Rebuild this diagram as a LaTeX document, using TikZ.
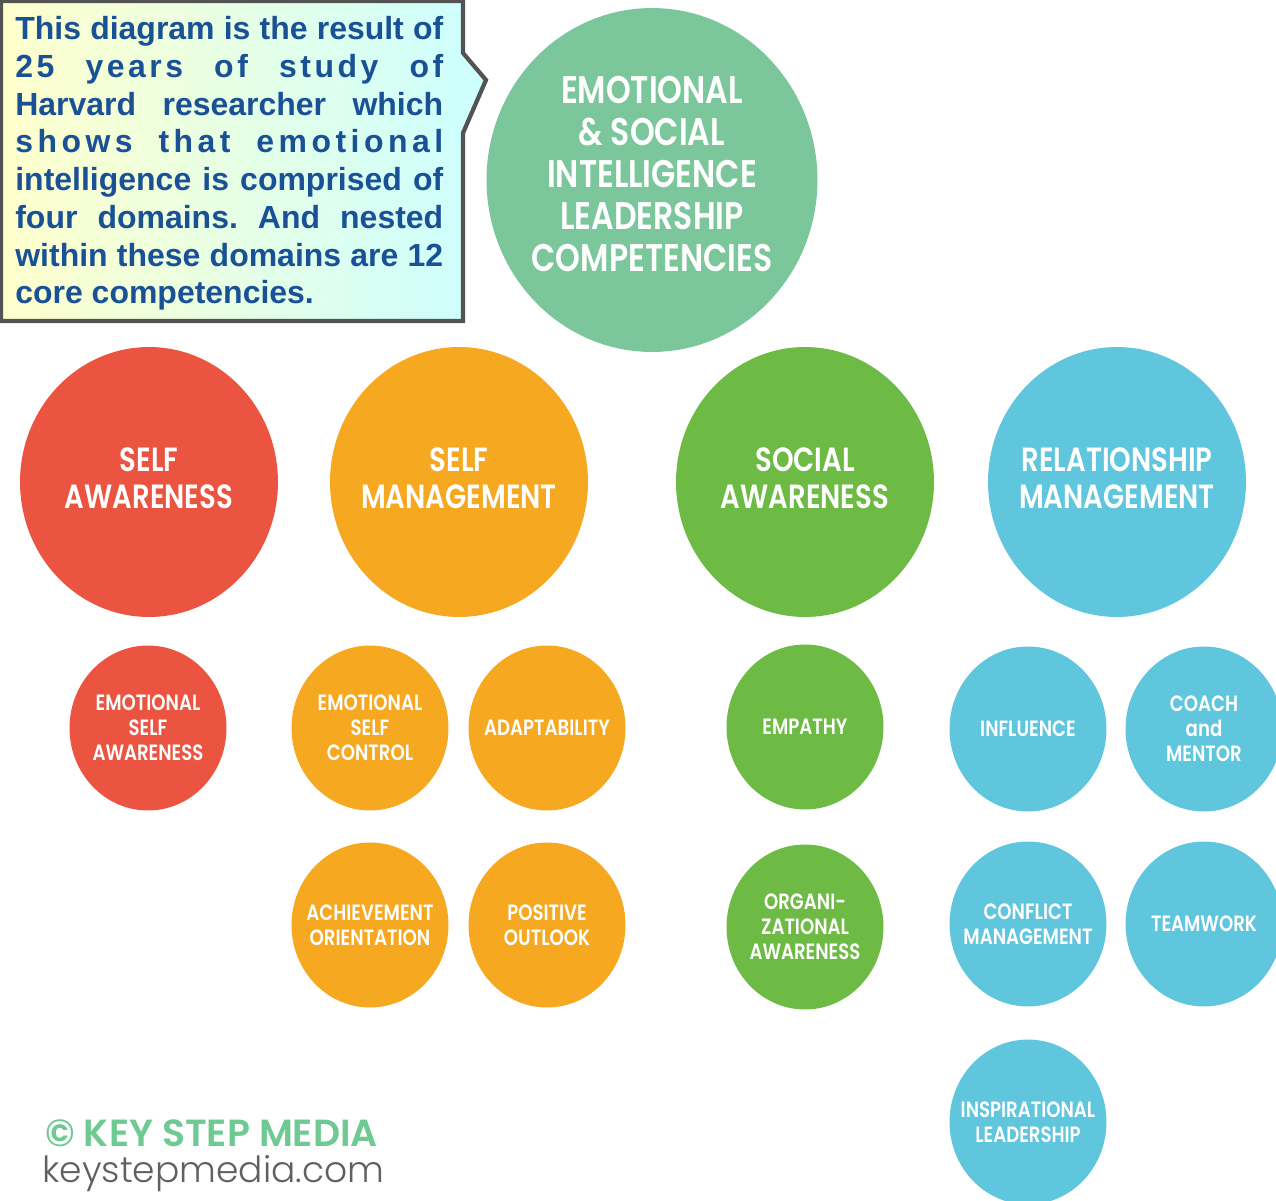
\documentclass[tikz,border=0pt]{standalone}
\usepackage{fontspec}
\setmainfont{Liberation Sans}
\newfontfamily\gothicfont[FakeStretch=0.82, BoldFont={Poppins SemiBold}]{Poppins}
\newfontfamily\logofont[BoldFont={Poppins SemiBold}]{Poppins}
\newfontfamily\urlfont{Poppins Light}
\usetikzlibrary{calc, shapes.geometric}

\definecolor{sa-red}{HTML}{EB5440}
\definecolor{sm-orange}{HTML}{F6A821}
\definecolor{soc-green}{HTML}{6DBB45}
\definecolor{rm-blue}{HTML}{5FC6DD}
\definecolor{top-green}{HTML}{7BC79B}
\definecolor{note-blue}{HTML}{1A5196}
\definecolor{note-yellow}{HTML}{FFFFCC}
\definecolor{note-cyan}{HTML}{CCFFFF}
\definecolor{logo-green}{HTML}{6FC993}
\definecolor{logo-gray}{HTML}{606060}

% one justified line of the note, words split by \hfill
\newlength{\notewidth}
\setlength{\notewidth}{8.56cm}
\newcommand{\noteline}[1]{\hbox to \notewidth{#1}}

\tikzset{
    my-bubble/.style={
        ellipse, fill=#1, inner sep=0pt
    },
    my-caption/.style={
        text=white, align=center, inner sep=0pt
    },
    my-main/.style={
        my-bubble=top-green, minimum width=6.62cm, minimum height=6.88cm
    },
    my-domain/.style={
        my-bubble=#1, minimum width=5.16cm, minimum height=5.4cm
    },
    my-competency/.style={
        my-bubble=#1, minimum width=3.14cm, minimum height=3.3cm
    },
    my-main-caption/.style={
        my-caption, yshift=0.12cm, font=\gothicfont\bfseries\fontsize{21.9}{23.8}\selectfont
    },
    my-domain-caption/.style={
        my-caption, yshift=0.08cm, font=\gothicfont\bfseries\fontsize{19.1}{21}\selectfont
    },
    my-competency-caption/.style={
        my-caption, font=\gothicfont\bfseries\fontsize{12.6}{14.2}\selectfont
    },
}

\begin{document}
\begin{tikzpicture}[x=0.02cm, y=-0.02cm]

        \useasboundingbox (0, 0) rectangle (1276, 1201);

        % NOTE BOX WITH POINTER -----------------------------------------------------------------------
        \draw[draw=gray!65!black, line width=2.4pt, left color=note-yellow, right color=note-cyan]
            (1, 1) -- (463, 1) -- (463, 53) -- (486, 80) -- (463, 133) -- (463, 321) -- (1, 321) -- cycle;
        \node[anchor=north west, inner sep=0pt, align=left, text=note-blue,
              font=\bfseries\fontsize{18.2}{21.5}\selectfont] (NOTE) at (15, 16) {%
            \noteline{This\hfill diagram\hfill is\hfill the\hfill result\hfill of}\\
            \noteline{\addfontfeature{LetterSpace=11}25\hfill years\hfill of\hfill study\hfill of}\\
            \noteline{Harvard\hfill researcher\hfill which}\\
            \noteline{\addfontfeature{LetterSpace=14}shows\hfill that\hfill emotional}\\
            \noteline{intelligence\hfill is\hfill comprised\hfill of}\\
            \noteline{four\hfill domains.\hfill And\hfill nested}\\
            \noteline{within\hfill these\hfill domains\hfill are\hfill 12}\\
            core competencies.};

        % MAIN BUBBLE
        \node[my-main, label={[my-main-caption]center:EMOTIONAL\\\& SOCIAL\\INTELLIGENCE\\LEADERSHIP\\COMPETENCIES}]
            (EI) at (652, 180) {};

        % DOMAINS -------------------------------------------------------------------------------------
        \node[my-domain=sa-red,    label={[my-domain-caption]center:SELF\\AWARENESS}]          (SA)  at (149, 482)  {};
        \node[my-domain=sm-orange, label={[my-domain-caption]center:SELF\\MANAGEMENT}]         (SM)  at (459, 482)  {};
        \node[my-domain=soc-green, label={[my-domain-caption]center:SOCIAL\\AWARENESS}]        (SOA) at (805, 482)  {};
        \node[my-domain=rm-blue,   label={[my-domain-caption]center:RELATIONSHIP\\MANAGEMENT}] (RM)  at (1117, 482) {};

        % SELF AWARENESS COMPETENCIES
        \node[my-competency=sa-red, label={[my-competency-caption]center:EMOTIONAL\\SELF\\AWARENESS}]
            (ESA) at ($(SA) + (-1, 246)$) {};

        % SELF MANAGEMENT COMPETENCIES
        \node[my-competency=sm-orange, label={[my-competency-caption]center:EMOTIONAL\\SELF\\CONTROL}]
            (ESC) at ($(SM) + (-89, 246)$) {};
        \node[my-competency=sm-orange, label={[my-competency-caption]center:ADAPTABILITY}]
            (ADAPT) at ($(SM) + (88, 246)$) {};
        \node[my-competency=sm-orange, label={[my-competency-caption]center:ACHIEVEMENT\\ORIENTATION}]
            (ACH) at ($(SM) + (-89, 443)$) {};
        \node[my-competency=sm-orange, label={[my-competency-caption]center:POSITIVE\\OUTLOOK}]
            (POS) at ($(SM) + (88, 443)$) {};

        % SOCIAL AWARENESS COMPETENCIES
        \node[my-competency=soc-green, label={[my-competency-caption]center:EMPATHY}]
            (EMP) at ($(SOA) + (0, 245)$) {};
        \node[my-competency=soc-green, label={[my-competency-caption]center:ORGANI-\\ZATIONAL\\AWARENESS}]
            (ORG) at ($(SOA) + (0, 445)$) {};

        % RELATIONSHIP MANAGEMENT COMPETENCIES
        \node[my-competency=rm-blue, label={[my-competency-caption]center:INFLUENCE}]
            (INF) at ($(RM) + (-89, 247)$) {};
        \node[my-competency=rm-blue, label={[my-competency-caption]center:COACH\\and\\MENTOR}]
            (COACH) at ($(RM) + (87, 247)$) {};
        \node[my-competency=rm-blue, label={[my-competency-caption]center:CONFLICT\\MANAGEMENT}]
            (CONF) at ($(RM) + (-89, 442)$) {};
        \node[my-competency=rm-blue, label={[my-competency-caption]center:TEAMWORK}]
            (TEAM) at ($(RM) + (87, 442)$) {};
        \node[my-competency=rm-blue, label={[my-competency-caption]center:INSPIRATIONAL\\LEADERSHIP}]
            (INSP) at ($(RM) + (-89, 640)$) {};

        % LOGO ----------------------------------------------------------------------------------------
        \node[anchor=west, inner sep=0pt, text=logo-green, font=\logofont\bfseries\fontsize{21.5}{21.5}\selectfont]
            (LOGO) at (45, 1133) {\textcopyright{} KEY STEP MEDIA};
        \node[anchor=west, inner sep=0pt, text=logo-gray, font=\urlfont\fontsize{20.5}{20.5}\selectfont]
            (URL) at (42, 1174) {keystepmedia.com};

\end{tikzpicture}
\end{document}
